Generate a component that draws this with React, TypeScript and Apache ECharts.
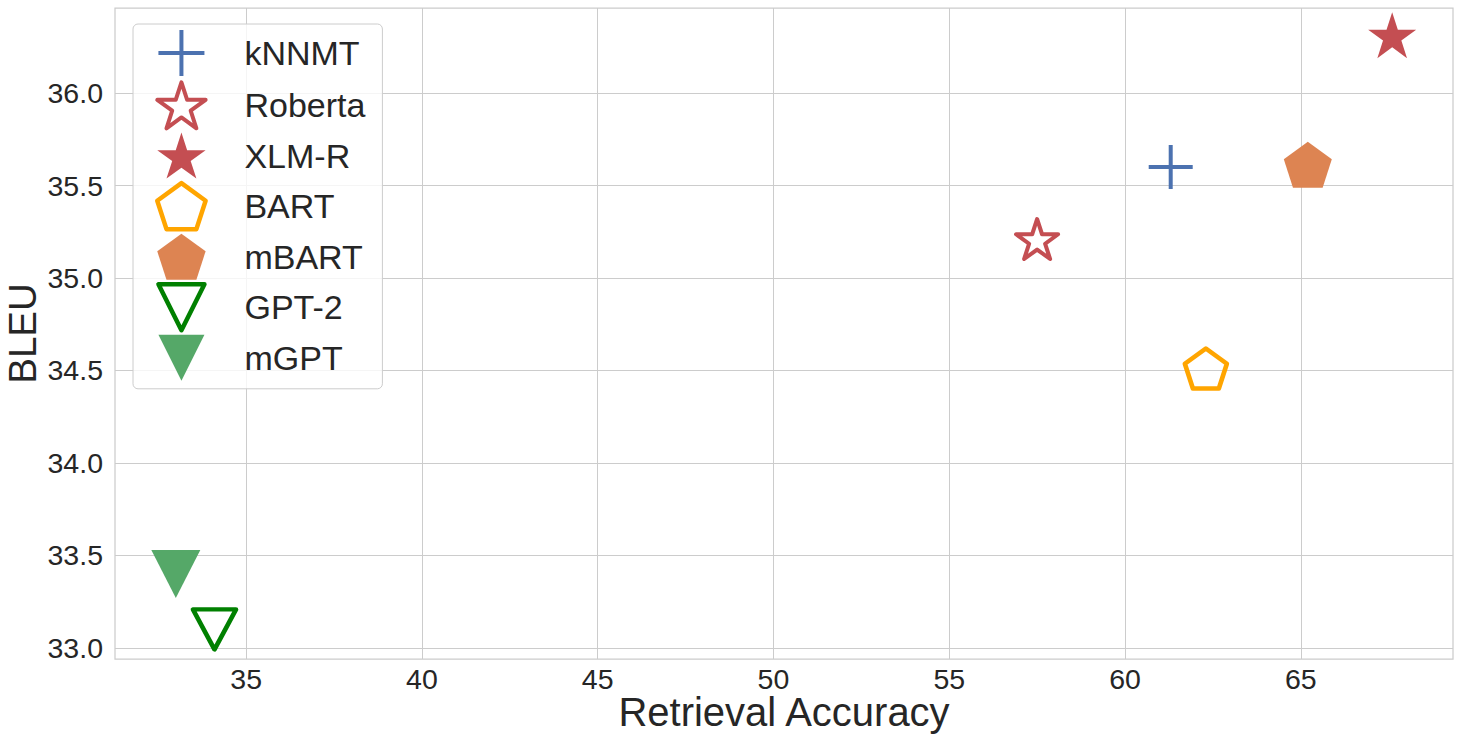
import React, { useEffect, useRef } from "react";
import * as echarts from "echarts";

const modelNames = ["kNNMT", "Roberta", "XLM-R", "BART", "mBART", "GPT-2", "mGPT"];
const retrievalAccuracy = [61.3, 57.5, 67.6, 62.3, 65.2, 34.1, 33.0];
const bleuScores = [35.6, 35.2, 36.3, 34.5, 35.6, 33.1, 33.4];
const xTickValues = [35, 40, 45, 50, 55, 60, 65];
const yTickValues = [33.0, 33.5, 34.0, 34.5, 35.0, 35.5, 36.0];

const STAR = "path://M0,-100L22.45,-30.9L95.1,-30.9L36.3,11.8L58.8,80.9L0,38.2L-58.8,80.9L-36.3,11.8L-95.1,-30.9L-22.45,-30.9Z";
const PENTAGON = "path://M0,-100L95.1,-30.9L58.8,80.9L-58.8,80.9L-95.1,-30.9Z";
const TRI_DOWN = "path://M-100,-100L100,-100L0,100Z";
const PLUS = "path://M0,-100L0,100M-100,0L100,0";

type Style = {
  symbol: string;
  size: number[];
  offset: number[];
  color: string;
  filled: boolean;
  border: number;
};

const styles: Style[] = [
  { symbol: PLUS, size: [44, 44], offset: [0, 0], color: "#4c72b0", filled: false, border: 4 },
  { symbol: STAR, size: [42, 40], offset: [0, -2], color: "#c44e52", filled: false, border: 4 },
  { symbol: STAR, size: [48, 46], offset: [0, -2.4], color: "#c44e52", filled: true, border: 0 },
  { symbol: PENTAGON, size: [42, 40], offset: [0, -2], color: "#ffa500", filled: false, border: 4.5 },
  { symbol: PENTAGON, size: [48, 46], offset: [0, -2.4], color: "#dd8452", filled: true, border: 0 },
  { symbol: TRI_DOWN, size: [43, 40], offset: [0, 0], color: "#008000", filled: false, border: 4.5 },
  { symbol: TRI_DOWN, size: [49, 48], offset: [0, 0], color: "#55a868", filled: true, border: 0 },
];

const FONT = "'Liberation Sans', Arial, sans-serif";
const TEXT = "#262626";

function markerStyle(s: Style) {
  return s.filled
    ? { color: s.color, opacity: 1, borderWidth: 0 }
    : {
        color: "rgba(255,255,255,0)",
        borderColor: s.color,
        borderWidth: s.border,
        borderJoin: "round",
        opacity: 1,
      };
}

export default function App() {
  const ref = useRef<HTMLDivElement>(null);
  useEffect(() => {
    if (!ref.current) return;
    const chart = echarts.init(ref.current, undefined, { renderer: "svg" });
    const series = modelNames.map((name, i) => {
      const s = styles[i];
      return {
        name,
        type: "scatter",
        data: [[retrievalAccuracy[i], bleuScores[i]]],
        symbol: s.symbol,
        symbolSize: s.size,
        symbolOffset: s.offset,
        symbolKeepAspect: false,
        itemStyle: markerStyle(s),
        emphasis: { disabled: true },
        z: 3,
      };
    });
    chart.setOption({
      animation: false,
      backgroundColor: "#ffffff",
      textStyle: { fontFamily: FONT },
      grid: {
        left: 115,
        right: 8,
        top: 8,
        bottom: 85,
        show: true,
        borderColor: "#cccccc",
        borderWidth: 1.25,
        containLabel: false,
        outerBoundsMode: "none",
      },
      xAxis: {
        type: "value",
        min: 31.27,
        max: 69.33,
        name: "Retrieval Accuracy",
        nameLocation: "middle",
        nameGap: 38,
        nameMoveOverlap: false,
        nameTextStyle: { fontSize: 40, lineHeight: 30, color: TEXT, fontFamily: FONT },
        axisLine: { show: false },
        axisTick: { show: false, customValues: xTickValues },
        axisLabel: {
          customValues: xTickValues,
          fontSize: 28.5,
          lineHeight: 28,
          color: TEXT,
          margin: 6,
          fontFamily: FONT,
        },
        splitLine: { show: true, lineStyle: { color: "#cccccc", width: 1 } },
      },
      yAxis: {
        type: "value",
        min: 32.94,
        max: 36.46,
        name: "BLEU",
        nameLocation: "middle",
        nameGap: 73,
        nameMoveOverlap: false,
        nameTextStyle: { fontSize: 38.5, color: TEXT, fontFamily: FONT, lineHeight: 40 },
        axisLine: { show: false },
        axisTick: { show: false, customValues: yTickValues },
        axisLabel: {
          customValues: yTickValues,
          fontSize: 28.5,
          color: TEXT,
          margin: 12,
          fontFamily: FONT,
          formatter: (v: number) => v.toFixed(1),
        },
        splitLine: { show: true, lineStyle: { color: "#cccccc", width: 1 } },
      },
      legend: {
        show: true,
        orient: "vertical",
        left: 133,
        top: 24,
        padding: [4, 17, 8, 22],
        itemWidth: 50,
        itemHeight: 46,
        itemGap: 2.3,
        symbolKeepAspect: true,
        backgroundColor: "rgba(255,255,255,0.8)",
        borderColor: "#cccccc",
        borderWidth: 1,
        borderRadius: 5,
        textStyle: {
          fontSize: 34,
          lineHeight: 40,
          color: TEXT,
          fontFamily: FONT,
          padding: [0, 0, 0, 33],
        },
        selectedMode: false,
        data: modelNames.map((name, i) => ({
          name,
          itemStyle: markerStyle(styles[i]),
        })),
      },
      series,
    });
    return () => chart.dispose();
  }, []);
  return (
    <div
      ref={ref}
      style={{ position: "absolute", left: 0, top: 0, width: 1461, height: 744 }}
    />
  );
}
